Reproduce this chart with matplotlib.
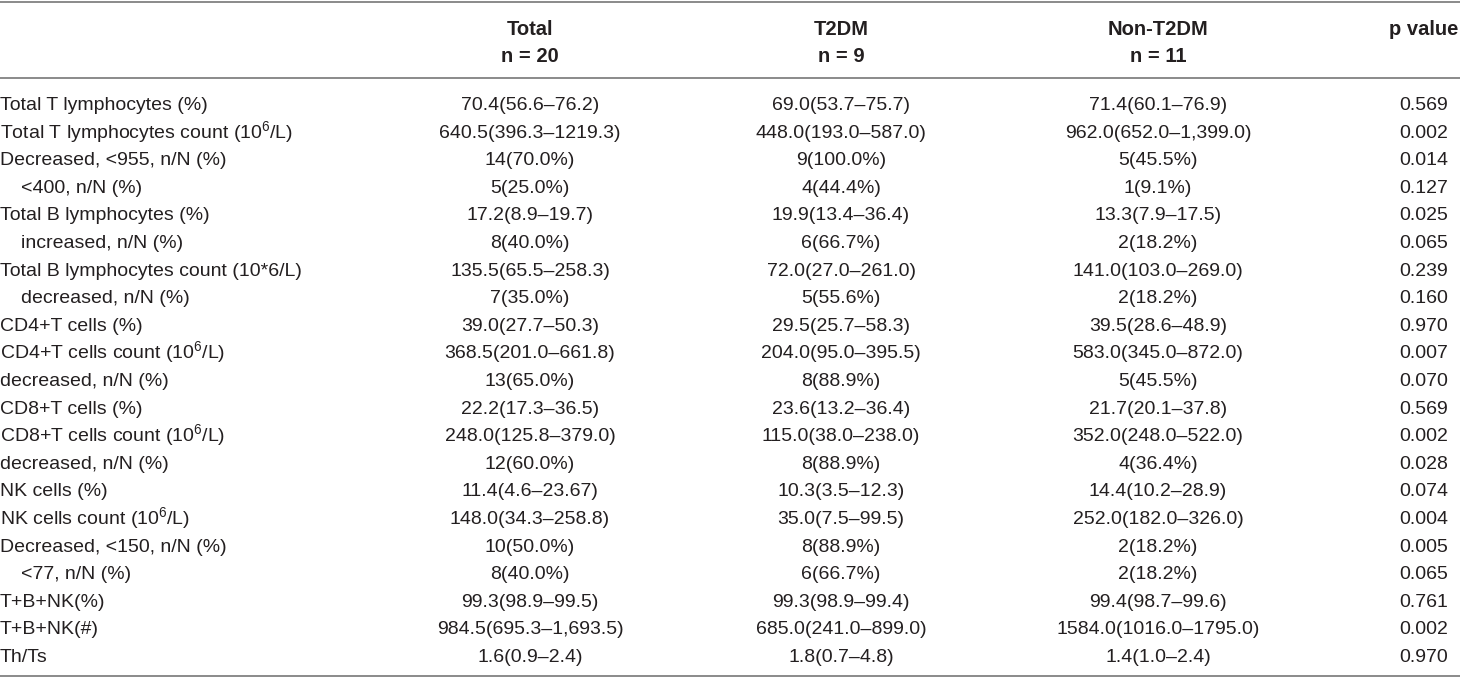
import matplotlib
matplotlib.use("Agg")
import matplotlib.pyplot as plt

plt.rcParams['font.family'] = ['Liberation Sans', 'DejaVu Sans']
plt.rcParams['mathtext.fontset'] = 'custom'
plt.rcParams['mathtext.rm'] = 'Liberation Sans'
plt.rcParams['mathtext.it'] = 'Liberation Sans:italic'
plt.rcParams['mathtext.bf'] = 'Liberation Sans:bold'

# table content
headers = ["Total", "T2DM", "Non-T2DM", "p value"]
header_n = ["n = 20", "n = 9", "n = 11", ""]

row_labels = [
    "Total T lymphocytes (%)",
    r"Total T lymphocytes count (10$^{6}$/L)",
    "Decreased, <955, n/N (%)",
    "<400, n/N (%)",
    "Total B lymphocytes (%)",
    "increased, n/N (%)",
    "Total B lymphocytes count (10*6/L)",
    "decreased, n/N (%)",
    "CD4+T cells (%)",
    r"CD4+T cells count (10$^{6}$/L)",
    "decreased, n/N (%)",
    "CD8+T cells (%)",
    r"CD8+T cells count (10$^{6}$/L)",
    "decreased, n/N (%)",
    "NK cells (%)",
    r"NK cells count (10$^{6}$/L)",
    "Decreased, <150, n/N (%)",
    "<77, n/N (%)",
    "T+B+NK(%)",
    "T+B+NK(#)",
    "Th/Ts",
]
# sub-rows that are indented in the first column
indented = [3, 5, 7, 17]

total_vals = [
    "70.4(56.6–76.2)", "640.5(396.3–1219.3)", "14(70.0%)", "5(25.0%)",
    "17.2(8.9–19.7)", "8(40.0%)", "135.5(65.5–258.3)", "7(35.0%)",
    "39.0(27.7–50.3)", "368.5(201.0–661.8)", "13(65.0%)", "22.2(17.3–36.5)",
    "248.0(125.8–379.0)", "12(60.0%)", "11.4(4.6–23.67)", "148.0(34.3–258.8)",
    "10(50.0%)", "8(40.0%)", "99.3(98.9–99.5)", "984.5(695.3–1,693.5)",
    "1.6(0.9–2.4)",
]
t2dm_vals = [
    "69.0(53.7–75.7)", "448.0(193.0–587.0)", "9(100.0%)", "4(44.4%)",
    "19.9(13.4–36.4)", "6(66.7%)", "72.0(27.0–261.0)", "5(55.6%)",
    "29.5(25.7–58.3)", "204.0(95.0–395.5)", "8(88.9%)", "23.6(13.2–36.4)",
    "115.0(38.0–238.0)", "8(88.9%)", "10.3(3.5–12.3)", "35.0(7.5–99.5)",
    "8(88.9%)", "6(66.7%)", "99.3(98.9–99.4)", "685.0(241.0–899.0)",
    "1.8(0.7–4.8)",
]
non_t2dm_vals = [
    "71.4(60.1–76.9)", "962.0(652.0–1,399.0)", "5(45.5%)", "1(9.1%)",
    "13.3(7.9–17.5)", "2(18.2%)", "141.0(103.0–269.0)", "2(18.2%)",
    "39.5(28.6–48.9)", "583.0(345.0–872.0)", "5(45.5%)", "21.7(20.1–37.8)",
    "352.0(248.0–522.0)", "4(36.4%)", "14.4(10.2–28.9)", "252.0(182.0–326.0)",
    "2(18.2%)", "2(18.2%)", "99.4(98.7–99.6)", "1584.0(1016.0–1795.0)",
    "1.4(1.0–2.4)",
]
p_vals = [
    "0.569", "0.002", "0.014", "0.127", "0.025", "0.065", "0.239", "0.160",
    "0.970", "0.007", "0.070", "0.569", "0.002", "0.028", "0.074", "0.004",
    "0.005", "0.065", "0.761", "0.002", "0.970",
]

W, H = 1460, 678
fig = plt.figure(figsize=(W / 100, H / 100), dpi=100)
ax = fig.add_axes([0, 0, 1, 1])
ax.set_xlim(0, W)
ax.set_ylim(H, 0)
ax.axis('off')

fs = 14.0
fs_head = 14.5
txt_col = '#231f20'
line_col = '#8a8a8a'
col_x = [530, 841, 1158, 1424]
row_y0, row_dy = 103, 27.6
indent = 21
base_off = 7  # baseline sits ~half a cap height below the row centre

# rules
for y in [1.5, 78, 676]:
    ax.axhline(y, color=line_col, lw=1.4)

# header
for x, h, n in zip(col_x, headers, header_n):
    ax.text(x, 28 + base_off, h, ha='center', va='baseline', fontsize=fs_head,
            fontweight='bold', color=txt_col)
    if n:
        ax.text(x, 55.5 + base_off, n, ha='center', va='baseline', fontsize=fs_head,
                fontweight='bold', color=txt_col)

columns = [total_vals, t2dm_vals, non_t2dm_vals, p_vals]
for i, lab in enumerate(row_labels):
    y = row_y0 + i * row_dy + base_off
    x0 = indent if i in indented else 0
    ax.text(x0, y, lab, ha='left', va='baseline', fontsize=fs, color=txt_col)
    for x, col in zip(col_x, columns):
        ax.text(x, y, col[i], ha='center', va='baseline', fontsize=fs, color=txt_col)

fig.savefig("out.png", dpi=100, facecolor='white')
